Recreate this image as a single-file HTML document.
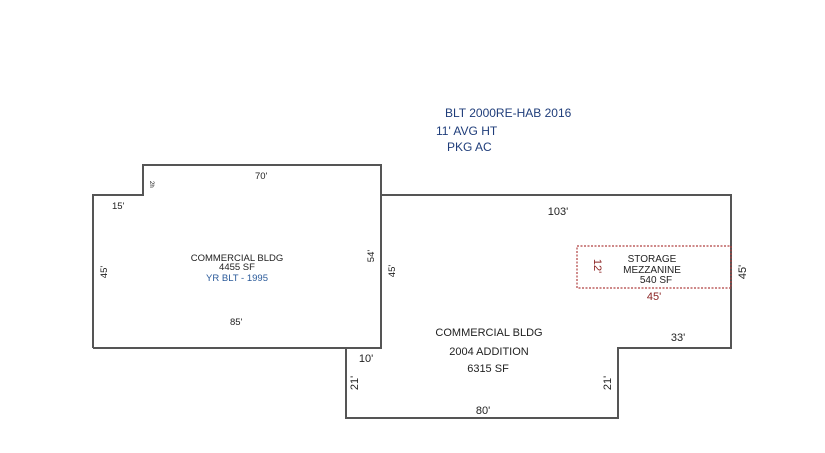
<!DOCTYPE html>
<html><head><meta charset="utf-8"><style>
html,body{margin:0;padding:0;background:#fff;}
svg{display:block}
text{font-family:"Liberation Sans",sans-serif;}
</style></head><body>
<svg width="825" height="453" viewBox="0 0 825 453" xmlns="http://www.w3.org/2000/svg">
<rect width="825" height="453" fill="#fff"/>
<g fill="none" stroke="#555" stroke-width="2">
<polyline points="93,348 93,195 143,195 143,165 381,165 381,348 93,348"/>
<polyline points="381,195 731,195 731,348 618,348 618,418 346,418 346,348 381,348"/>
</g>
<rect x="577" y="246" width="154" height="42" fill="none" stroke="#b04040" stroke-width="1.2" stroke-dasharray="2,1.5"/>
<g fill="#1f3d7a" font-size="12">
<text x="445" y="117">BLT 2000RE-HAB 2016</text>
<text x="436" y="135">11' AVG HT</text>
<text x="447" y="151">PKG AC</text>
</g>
<g fill="#222" font-size="9.5">
<text x="255" y="179">70'</text>
<text x="112" y="209">15'</text>
<text x="153" y="184" font-size="6" transform="rotate(90 153 181)">2h</text>
<text x="230" y="325">85'</text>
<text x="237" y="261" text-anchor="middle">COMMERCIAL BLDG</text>
<text x="237" y="270" text-anchor="middle">4455 SF</text>
<text x="237" y="281" text-anchor="middle" fill="#2a5a9a">YR BLT - 1995</text>
<text x="107" y="272" transform="rotate(-90 107 272)" text-anchor="middle">45'</text>
<text x="374" y="256" transform="rotate(-90 374 256)" text-anchor="middle">54'</text>
<text x="395" y="271" transform="rotate(-90 395 271)" text-anchor="middle">45'</text>
</g>
<g fill="#222" font-size="11">
<text x="558" y="215" text-anchor="middle">103'</text>
<text x="489" y="336" text-anchor="middle">COMMERCIAL BLDG</text>
<text x="489" y="355" text-anchor="middle">2004 ADDITION</text>
<text x="488" y="372" text-anchor="middle">6315 SF</text>
<text x="678" y="341" text-anchor="middle">33'</text>
<text x="366" y="362" text-anchor="middle">10'</text>
<text x="483" y="414" text-anchor="middle">80'</text>
<text x="358" y="383" transform="rotate(-90 358 383)" text-anchor="middle">21'</text>
<text x="611" y="383" transform="rotate(-90 611 383)" text-anchor="middle">21'</text>
<text x="746" y="272" transform="rotate(-90 746 272)" text-anchor="middle">45'</text>
<text x="652" y="262" text-anchor="middle" font-size="10">STORAGE</text>
<text x="652" y="273" text-anchor="middle" font-size="10">MEZZANINE</text>
<text x="656" y="283" text-anchor="middle" font-size="10">540 SF</text>
</g>
<g fill="#8b2222" font-size="11">
<text x="654" y="300" text-anchor="middle">45'</text>
<text x="594" y="266" transform="rotate(90 594 266)" text-anchor="middle">12'</text>
</g>
</svg>
</body></html>
